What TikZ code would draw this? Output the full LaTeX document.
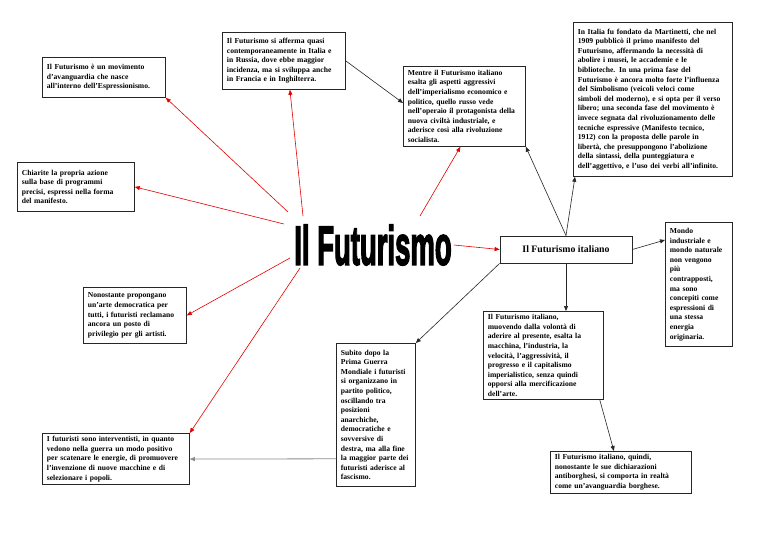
\documentclass[tikz,border=0pt]{standalone}
\usepackage{fontspec}
\setmainfont{Liberation Serif}
\newfontfamily\titlefont[FakeBold=3.5]{Liberation Sans Bold}
\usetikzlibrary{arrows.meta}
\begin{document}
\begin{tikzpicture}[x=1pt,y=-1pt,
  box/.style={draw=black!85, line width=0.8pt, anchor=north west, align=left,
    inner xsep=4.5pt, inner ysep=3pt, text width=#1-9pt, minimum width=#1,
    font=\fontsize{7.6}{9.6}\selectfont\bfseries, fill=white},
  redarr/.style={draw=red!90!black, line width=0.6pt, -{Triangle[length=5pt,width=4pt]}},
  blkarr/.style={draw=black!85, line width=0.6pt, -{Triangle[length=5pt,width=4pt]}},
  grayarr/.style={draw=black!45, line width=0.8pt, -{Triangle[length=5pt,width=4pt]}}]
\useasboundingbox (0,0) rectangle (768,543);
\fill[white] (0,0) rectangle (768,543);

\node[box=123pt, minimum height=40pt] (A) at (42,57)
 {Il Futurismo è un movimento\\ d'avanguardia che nasce\\ all'interno dell'Espressionismo.};
\node[box=123pt, minimum height=57pt] (B) at (222,32)
 {Il Futurismo si afferma quasi\\ contemporaneamente in Italia e\\ in Russia, dove ebbe maggior\\ incidenza, ma si sviluppa anche\\ in Francia e in Inghilterra.};
\node[box=122pt, minimum height=80pt] (C) at (403,66)
 {Mentre il Futurismo italiano\\ esalta gli aspetti aggressivi\\ dell'imperialismo economico e\\ politico, quello russo vede\\ nell'operaio il protagonista della\\ nuova civiltà industriale, e\\ aderisce così alla rivoluzione\\ socialista.};
\node[box=159pt, minimum height=154pt] (D) at (573,22)
 {In Italia fu fondato da Martinetti, che nel\\ 1909 pubblicò il primo manifesto del\\ Futurismo, affermando la necessità di\\ abolire i musei, le accademie e le\\ biblioteche. In una prima fase del\\ Futurismo è ancora molto forte l'influenza\\ del Simbolismo (veicoli veloci come\\ simboli del moderno), e si opta per il verso\\ libero; una seconda fase del movimento è\\ invece segnata dal rivoluzionamento delle\\ tecniche espressive (Manifesto tecnico,\\ 1912) con la proposta delle parole in\\ libertà, che presuppongono l'abolizione\\ della sintassi, della punteggiatura e\\ dell'aggettivo, e l'uso dei verbi all'infinito.};
\node[box=117pt, minimum height=49pt] (E) at (17,162)
 {Chiarite la propria azione\\ sulla base di programmi\\ precisi, espressi nella forma\\ del manifesto.};
\node[box=103pt, minimum height=56pt] (F) at (83,287)
 {Nonostante propongano\\ un'arte democratica per\\ tutti, i futuristi reclamano\\ ancora un posto di\\ privilegio per gli artisti.};
\node[box=67pt, minimum height=124pt] (G) at (665,222)
 {Mondo\\ industriale e\\ mondo naturale\\ non vengono\\ più\\ contrapposti,\\ ma sono\\ concepiti come\\ espressioni di\\ una stessa\\ energia\\ originaria.};
\node[box=120pt, minimum height=87pt] (H) at (483,311)
 {Il Futurismo italiano,\\ muovendo dalla volontà di\\ aderire al presente, esalta la\\ macchina, l'industria, la\\ velocità, l'aggressività, il\\ progresso e il capitalismo\\ imperialistico, senza quindi\\ opporsi alla mercificazione\\ dell'arte.};
\node[box=79pt, minimum height=143pt] (I) at (336,343)
 {Subito dopo la\\ Prima Guerra\\ Mondiale i futuristi\\ si organizzano in\\ partito politico,\\ oscillando tra\\ posizioni\\ anarchiche,\\ democratiche e\\ sovversive di\\ destra, ma alla fine\\ la maggior parte dei\\ futuristi aderisce al\\ fascismo.};
\node[box=147pt, minimum height=45pt] (J) at (42,433)
 {I futuristi sono interventisti, in quanto\\ vedono nella guerra un modo positivo\\ per scatenare le energie, di promuovere\\ l'invenzione di nuove macchine e di\\ selezionare i popoli.};
\node[box=141pt, minimum height=39pt] (K) at (550,451)
 {Il Futurismo italiano, quindi,\\ nonostante le sue dichiarazioni\\ antiborghesi, si comporta in realtà\\ come un'avanguardia borghese.};
\node[draw=black!85, line width=0.8pt, fill=white, align=center, minimum width=132pt, minimum height=27pt,
  font=\fontsize{9.8}{11}\selectfont\bfseries] (L) at (566,249.5) {Il Futurismo italiano};

\node[inner sep=2pt] (title) at (373,245)
 {\titlefont\fontsize{55}{55}\selectfont\scalebox{0.5}[1]{Il Futurismo}};

% red connectors from the title
\coordinate (tA) at (288,212);
\coordinate (tB) at (303,216);
\coordinate (tC) at (420,216);
\coordinate (tE) at (284,224);
\coordinate (tF) at (290,258);
\coordinate (tJ) at (300,268);
\draw[redarr] (tA) -- (A.south east);
\draw[redarr] (tB) -- ([xshift=6pt]B.south);
\draw[redarr] (tC) -- ([xshift=-4pt]C.south);
\draw[redarr] (tE) -- (E.east);
\draw[redarr] (tF) -- (F.east);
\draw[redarr] (tJ) -- (J.north east);
\draw[redarr] (title.east) -- (L.west);

% black connectors
\draw[blkarr] (L.north) -- (C.south east);
\draw[blkarr] (L.north) -- ([xshift=2pt]D.south west);
\draw[blkarr] (L.east) -- ([yshift=-18pt]G.north west);
\draw[blkarr] (L.south) -- (L.south |- H.north);
\draw[blkarr] (L.south west) -- (I.north east);
\draw[blkarr] ([xshift=-4pt]H.south east) -- ([xshift=-7pt]K.north);
\draw[blkarr] (B.east) -- ([yshift=-37pt]C.north west);
\draw[grayarr] ([yshift=28pt]I.south west) -- (J.east);
\end{tikzpicture}
\end{document}
